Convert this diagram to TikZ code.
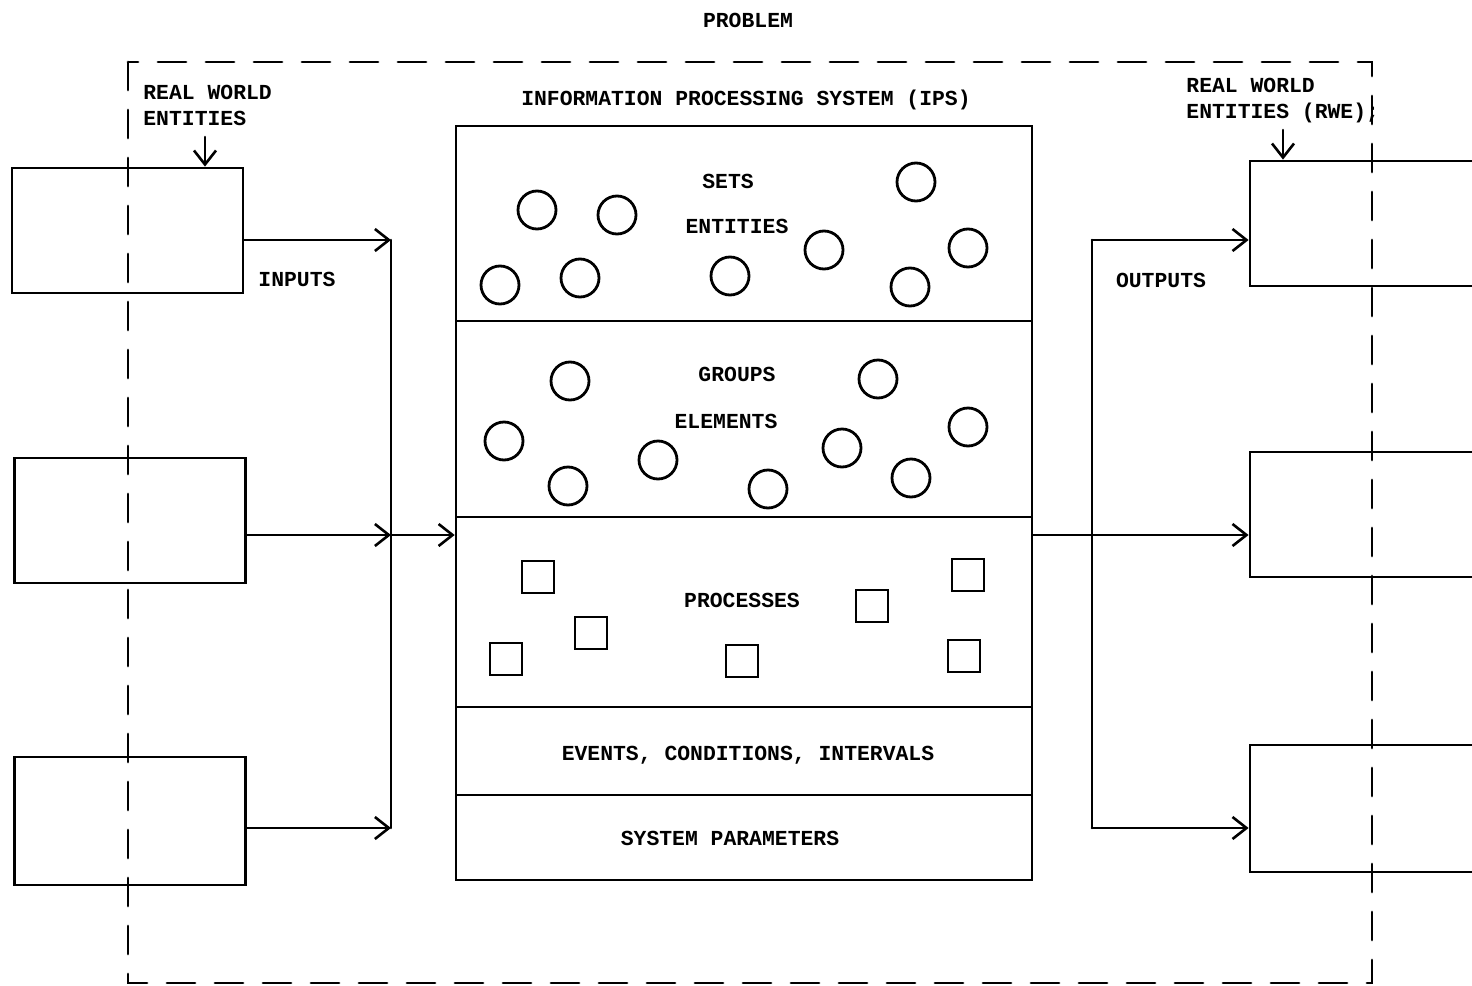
\documentclass[tikz,border=0pt]{standalone}
\usepackage{fontspec}
\setmonofont{Liberation Mono}
\usetikzlibrary{arrows.meta}
\tikzset{
  lbl/.style={font=\ttfamily\bfseries\fontsize{10.7}{13}\selectfont, inner sep=0pt},
  rwebox/.style={draw, line width=1.4pt, minimum width=115.5pt, minimum height=62.5pt, inner sep=0pt},
  layer/.style={draw, line width=1.3pt, minimum width=288pt, inner sep=0pt},
  ent/.style={draw, circle, line width=1.4pt, minimum size=19pt, inner sep=0pt},
  proc/.style={draw, rectangle, line width=1.4pt, minimum size=16pt, inner sep=0pt},
  flow/.style={line width=1.3pt, -{Straight Barb[length=7pt,width=11pt,line width=1.3pt]}},
  bus/.style={line width=1.3pt},
  border/.style={line width=1.4pt, dash pattern=on 14pt off 10pt}
}
\begin{document}
\begin{tikzpicture}[x=0.5pt,y=-0.5pt,line cap=round]
  \useasboundingbox (0,0) rectangle (1472,985);
  \clip (0,0) rectangle (1472,985);
  \node[lbl] (title) at (748,20) {PROBLEM};
  \draw[border] (128,62) rectangle (1372,983);

  % real world entities, input side
  \node[rwebox] (in1) at (127.5,230.5) {};
  \node[rwebox] (in2) at (130,520.5) {};
  \node[rwebox, minimum height=64pt] (in3) at (130,821) {};
  \node[lbl, anchor=west, align=left] (rwein) at (143,105) {REAL WORLD\\ENTITIES};
  \coordinate (rweinp) at (205,137);
  \draw[flow] (rweinp) -- (rweinp |- in1.north);
  \node[lbl] (inputs) at (297,279) {INPUTS};

  % information processing system
  \node[lbl] (ipstitle) at (746,100) {INFORMATION PROCESSING SYSTEM (IPS)};
  \node[layer, minimum height=97.5pt] (sets) at (744,223.5) {};
  \node[layer, minimum height=98pt] (groups) at (744,419) {};
  \node[layer, minimum height=95pt] (procs) at (744,612) {};
  \node[layer, minimum height=44pt] (events) at (744,751) {};
  \node[layer, minimum height=42.5pt] (params) at (744,837.5) {};
  \node[lbl] (setslbl) at (728,181) {SETS};
  \node[lbl] (entlbl) at (737,226) {ENTITIES};
  \node[lbl] (grplbl) at (737,374) {GROUPS};
  \node[lbl] (elelbl) at (726,421) {ELEMENTS};
  \node[lbl] (proclbl) at (742,600) {PROCESSES};
  \node[lbl] (evlbl) at (748,755) {EVENTS, CONDITIONS, INTERVALS};
  \node[lbl] (parlbl) at (730,838) {SYSTEM PARAMETERS};
  \foreach \x/\y [count=\i] in {537/210,617/215,500/285,580/278,730/276,824/250,916/182,968/248,910/287}
    \node[ent] (s\i) at (\x,\y) {};
  \foreach \x/\y [count=\i] in {570/381,878/379,504/441,968/427,658/460,842/448,568/486,768/489,911/478}
    \node[ent] (g\i) at (\x,\y) {};
  \foreach \x/\y [count=\i] in {538/577,591/633,506/659,742/661,872/606,968/575,964/656}
    \node[proc] (p\i) at (\x,\y) {};

  % inputs
  \coordinate (ib1) at (391,240);
  \coordinate (ib2) at (391,535);
  \coordinate (ib3) at (391,828);
  \draw[flow] (in1.east |- ib1) -- (ib1);
  \draw[flow] (in2.east |- ib2) -- (ib2);
  \draw[flow] (in3.east |- ib3) -- (ib3);
  \draw[bus] (ib1) -- (ib3);
  \draw[flow] (ib2) -- (procs.west |- ib2);

  % real world entities, output side
  \node[rwebox, minimum width=120pt] (out1) at (1370,223.5) {};
  \node[rwebox, minimum width=120pt] (out2) at (1370,514.5) {};
  \node[rwebox, minimum width=120pt, minimum height=63.5pt] (out3) at (1370,808.5) {};
  \node[lbl, anchor=west, align=left] (rweout) at (1186,101) {REAL WORLD\\ENTITIES (RWE);};
  \coordinate (rweoutp) at (1283,130);
  \draw[flow] (rweoutp) -- (rweoutp |- out1.north);
  \node[lbl] (outputs) at (1161,280) {OUTPUTS};

  % outputs
  \coordinate (ob1) at (1092,240);
  \coordinate (ob2) at (1092,535);
  \coordinate (ob3) at (1092,828);
  \draw[bus] (procs.east |- ob2) -- (ob2);
  \draw[bus] (ob1) -- (ob3);
  \draw[flow] (ob1) -- (out1.west |- ob1);
  \draw[flow] (ob2) -- (out2.west |- ob2);
  \draw[flow] (ob3) -- (out3.west |- ob3);
\end{tikzpicture}
\end{document}
